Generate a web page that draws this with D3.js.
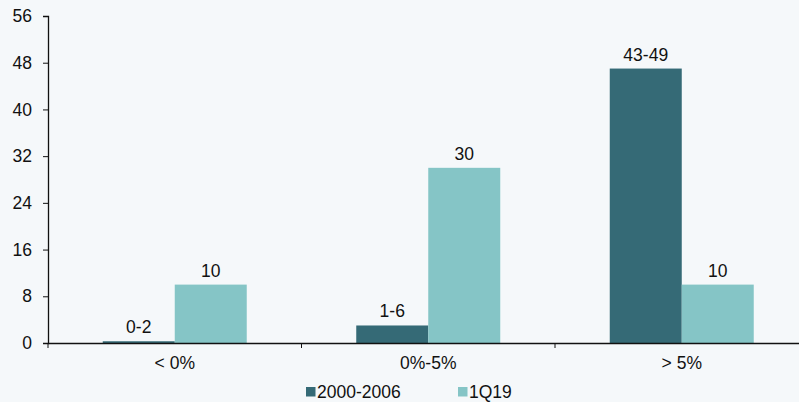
<!DOCTYPE html>
<html>
<head>
<meta charset="utf-8">
<script src="https://cdn.jsdelivr.net/npm/d3@7.9.0/dist/d3.min.js"></script>
<style>
  html, body { margin: 0; padding: 0; background: #f5f8fa; }
  svg { display: block; font-family: "Liberation Sans", Arial, sans-serif; }
</style>
</head>
<body>
<svg id="chart" width="799" height="402"></svg>
<script>
// ---------- DATA ----------
const categories = ["< 0%", "0%-5%", "> 5%"];
const seriesNames = ["2000-2006", "1Q19"];
const values2000 = [0.3, 3, 47];
const values1Q19 = [10, 30, 10];
const labels2000 = ["0-2", "1-6", "43-49"];
const labels1Q19 = ["10", "30", "10"];
const yTicks = [0, 8, 16, 24, 32, 40, 48, 56];
const colors = ["#356a76", "#85c5c6"];
const FS = 17.5;

const svg = d3.select("#chart");

// ---------- SCALES ----------
const y = d3.scaleLinear().domain([0, 56]).range([343, 16]);
const x0 = d3.scaleBand().domain(categories).range([48, 808.5]);
const x1 = d3.scaleBand().domain(seriesNames).range([54.75, x0.bandwidth() - 54.75]);

const rows = categories.map((c, i) => ({
    cat: c,
    bars: [
        { s: seriesNames[0], v: values2000[i], label: labels2000[i] },
        { s: seriesNames[1], v: values1Q19[i], label: labels1Q19[i] }
    ]
}));

// ---------- BARS ----------
const groups = svg.selectAll(".grp")
    .data(rows)
    .join("g")
    .attr("class", "grp")
    .attr("transform", d => `translate(${x0(d.cat)},0)`);

groups.selectAll("rect")
    .data(d => d.bars)
    .join("rect")
    .attr("x", d => x1(d.s))
    .attr("y", d => y(d.v))
    .attr("width", x1.bandwidth())
    .attr("height", d => y(0) - y(d.v))
    .attr("fill", (d, i) => colors[i]);

groups.selectAll("text")
    .data(d => d.bars)
    .join("text")
    .attr("x", d => x1(d.s) + x1.bandwidth() / 2)
    .attr("y", d => y(d.v) - 8)
    .attr("text-anchor", "middle")
    .attr("font-size", FS)
    .attr("fill", "#111")
    .text(d => d.label);

// ---------- AXES ----------
const yAxis = svg.append("g")
    .attr("transform", "translate(48,0)")
    .call(d3.axisLeft(y).tickValues(yTicks).tickSize(5).tickPadding(11));

const xAxis = svg.append("g")
    .attr("transform", `translate(0,${y(0)})`)
    .call(d3.axisBottom(x0).tickSize(0).tickPadding(14));

// category boundary ticks
svg.selectAll(".xtick")
    .data(categories)
    .join("line")
    .attr("class", "xtick")
    .attr("x1", d => x0(d))
    .attr("x2", d => x0(d))
    .attr("y1", y(0))
    .attr("y2", y(0) + 5)
    .attr("stroke", "#111");

[yAxis, xAxis].forEach(a => {
    a.select(".domain").attr("stroke", "#111").attr("stroke-width", 1.3);
    a.selectAll(".tick line").attr("stroke", "#111");
    a.selectAll("text").attr("font-size", FS).attr("fill", "#111")
        .attr("font-family", "Liberation Sans, Arial, sans-serif");
});

// ---------- LEGEND ----------
const legendX = [306, 458];
const legend = svg.selectAll(".leg")
    .data(seriesNames)
    .join("g")
    .attr("class", "leg")
    .attr("transform", (d, i) => `translate(${legendX[i]},387)`);

legend.append("rect")
    .attr("width", 9.5)
    .attr("height", 9.5)
    .attr("fill", (d, i) => colors[i]);

legend.append("text")
    .attr("x", 11)
    .attr("y", 10.5)
    .attr("font-size", FS)
    .attr("fill", "#111")
    .text(d => d);
</script>
</body>
</html>
